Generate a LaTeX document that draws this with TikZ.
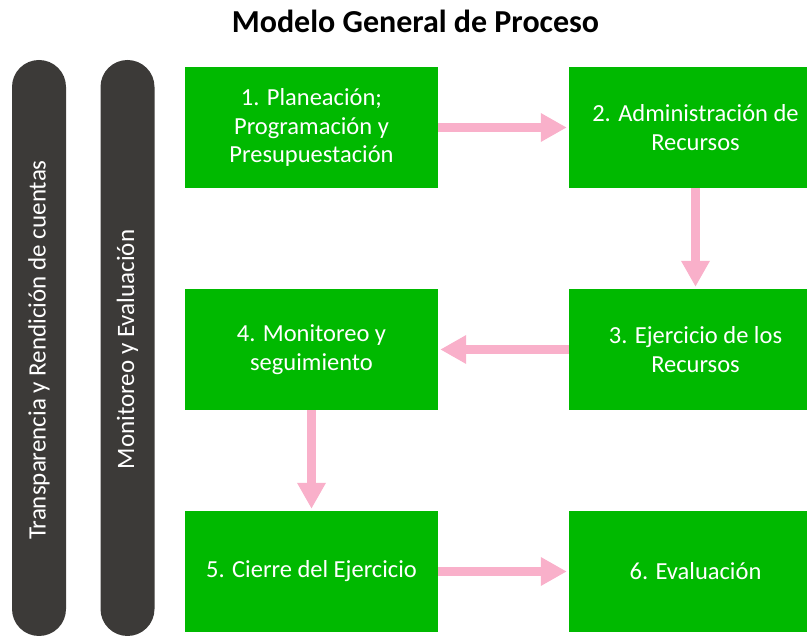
\documentclass[tikz,border=0pt]{standalone}
\usepackage{fontspec}
\setmainfont{Carlito}
\usetikzlibrary{arrows.meta}
\definecolor{boxgreen}{RGB}{0,185,0}
\definecolor{arrowpink}{RGB}{249,176,202}
\definecolor{bardark}{RGB}{60,58,56}
\begin{document}
\begin{tikzpicture}[x=1pt,y=-1pt,
  stepbox/.style={fill=boxgreen, draw=none, minimum width=253pt, minimum height=121pt,
    text=white, font=\fontsize{24.5}{28.5}\selectfont, align=center, inner sep=0pt},
  sidebar/.style={fill=bardark, draw=none, rounded corners=27pt, minimum width=54pt,
    minimum height=576pt, inner sep=0pt},
  bartext/.style={text=white, font=\fontsize{25}{28}\selectfont, rotate=90},
  flow/.style={draw=arrowpink, line width=9.5pt, -{Triangle[length=26pt,width=27pt]}, shorten >=2pt}]
\useasboundingbox (0,0) rectangle (807,636);
\clip (0,0) rectangle (807,636);
\node[font=\fontsize{32}{36}\bfseries\selectfont] (title) at (415.5,21) {Modelo General de Proceso};
\node[sidebar] (bar1) at (39,348) {};
\node[sidebar] (bar2) at (127.5,348) {};
\node[bartext] (bt1) at (39,350) {Transparencia y Rendición de cuentas};
\node[bartext] (bt2) at (127.5,349.5) {Monitoreo y Evaluación};
\node[stepbox] (b1) at (311.5,127.5) {1. Planeación;\\Programación y\\Presupuestación};
\node[stepbox] (b2) at (695.5,127.5) {2. Administración de\\Recursos};
\node[stepbox] (b3) at (695.5,349.5) {3. Ejercicio de los\\Recursos};
\node[stepbox] (b4) at (311.5,349.5) {4. Monitoreo y\\seguimiento};
\node[stepbox] (b5) at (311.5,571.5) {5. Cierre del Ejercicio};
\node[stepbox] (b6) at (695.5,571.5) {6. Evaluación};
\draw[flow] (b1.east) -- (b2.west);
\draw[flow] (b2.south) -- (b3.north);
\draw[flow] (b3.west) -- (b4.east);
\draw[flow] (b4.south) -- (b5.north);
\draw[flow] (b5.east) -- (b6.west);
\end{tikzpicture}
\end{document}
